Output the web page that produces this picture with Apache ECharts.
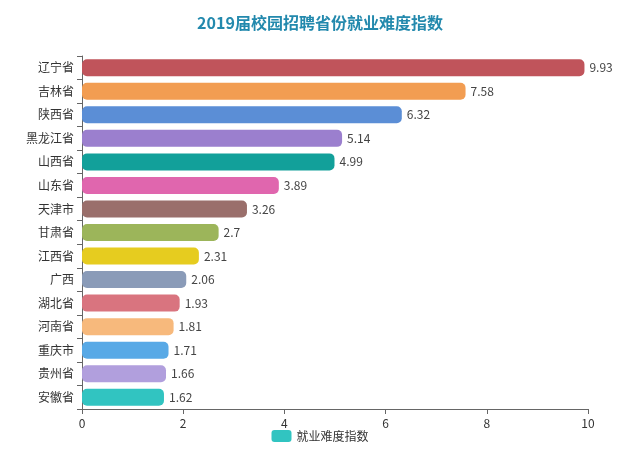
<!DOCTYPE html>
<html><head><meta charset="utf-8">
<script src="https://cdn.jsdelivr.net/npm/echarts@6/dist/echarts.min.js"></script>
<style>html,body{margin:0;padding:0;background:#fff}#c{width:640px;height:455px}</style>
</head><body><div id="c"></div>
<script>
const categories = ['辽宁省','吉林省','陕西省','黑龙江省','山西省','山东省','天津市','甘肃省','江西省','广西','湖北省','河南省','重庆市','贵州省','安徽省'];
const values = [9.93,7.58,6.32,5.14,4.99,3.89,3.26,2.7,2.31,2.06,1.93,1.81,1.71,1.66,1.62];
const barColors = ['#c0545b','#f29d52','#5b8ed6','#9b7fce','#12a09a','#e066ae','#9a6f6b','#9cb55a','#e6cc1f','#8a9bb8','#d9747f','#f7b97c','#58a9e6','#b19fdd','#31c4c1'];
const xTicks = [0,2,4,6,8,10];
const chart = echarts.init(document.getElementById('c'));
chart.setOption({
  animation:false,
  title:{text:'2019届校园招聘省份就业难度指数',left:'center',top:10,
    textStyle:{color:'#2389ad',fontSize:16,fontWeight:'bold',fontFamily:'Noto Sans CJK SC'}},
  legend:{bottom:8,left:'center',itemWidth:20,itemHeight:12,icon:'roundRect',
    data:['就业难度指数'],textStyle:{color:'#333',fontSize:12,fontFamily:'Noto Sans CJK SC'}},
  grid:{left:82,right:52,top:56,bottom:46,containLabel:false},
  xAxis:{type:'value',min:xTicks[0],max:xTicks[xTicks.length-1],interval:2,
    splitLine:{show:false},
    axisLine:{show:true,lineStyle:{color:'#666'}},
    axisTick:{show:true,lineStyle:{color:'#666'}},
    axisLabel:{color:'#333',fontSize:12,fontFamily:'Noto Sans CJK SC'}},
  yAxis:{type:'category',inverse:true,data:categories,
    axisLine:{lineStyle:{color:'#666'}},
    axisTick:{show:true,lineStyle:{color:'#666'}},
    axisLabel:{color:'#333',fontSize:12,fontFamily:'Noto Sans CJK SC'}},
  series:[{name:'就业难度指数',type:'bar',barWidth:17,
    data:values.map((v,i)=>({value:v,itemStyle:{color:barColors[i]}})),
    itemStyle:{color:'#31c4c1',borderRadius:5},
    label:{show:true,position:'right',color:'#444',fontSize:12,fontFamily:'Noto Sans CJK SC'}
  }]
});
</script></body></html>
